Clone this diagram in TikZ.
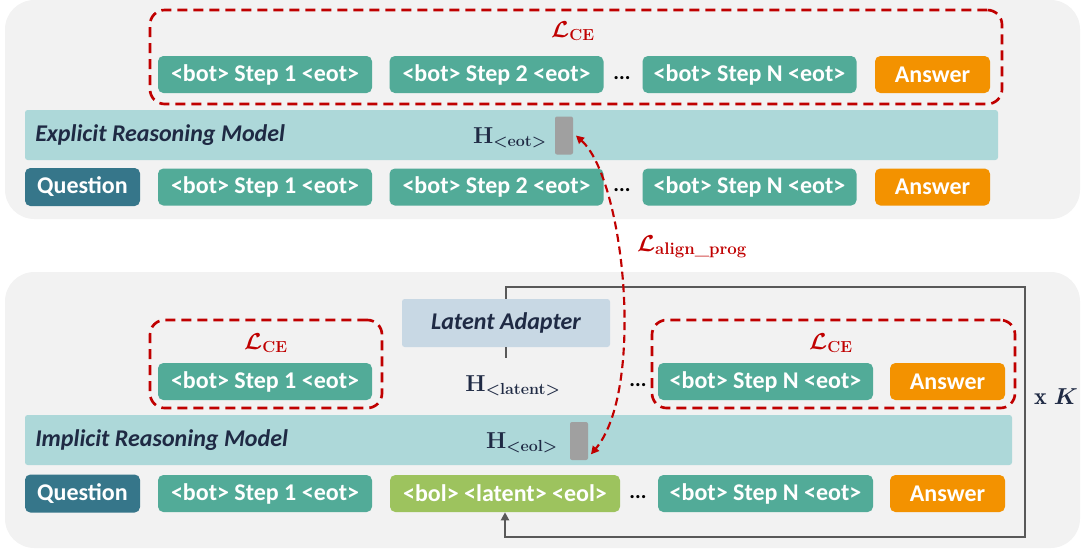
\documentclass[tikz,border=0pt]{standalone}
\usepackage{fontspec}
\usepackage{amsmath}
\setsansfont{Carlito}
\usetikzlibrary{arrows.meta}
\definecolor{panelgray}{HTML}{F2F2F2}
\definecolor{stepteal}{HTML}{52AB98}
\definecolor{anscol}{HTML}{F39200}
\definecolor{barcol}{HTML}{ADD8D9}
\definecolor{qcol}{HTML}{36768A}
\definecolor{grncol}{HTML}{9DC35E}
\definecolor{adaptcol}{HTML}{C8D8E4}
\definecolor{lossred}{HTML}{C00000}
\definecolor{navy}{HTML}{1F2A44}
\definecolor{hidgray}{HTML}{A0A0A0}
\definecolor{loopgray}{HTML}{595959}
\begin{document}
\begin{tikzpicture}[x=0.75pt,y=-0.75pt,
  sz/.style 2 args={minimum width=#1*0.75pt, minimum height=#2*0.75pt},
  panel/.style={fill=panelgray, draw=none, rounded corners=22pt, inner sep=0},
  tok/.style={rounded corners=4pt, inner sep=0, text=white, font=\sffamily\bfseries\fontsize{18}{21}\selectfont},
  stepbox/.style={tok, fill=stepteal, sz={214}{37}},
  ansbox/.style={tok, fill=anscol, sz={115}{37}},
  qbox/.style={tok, fill=qcol, sz={115}{38}},
  bar/.style={fill=barcol, inner sep=0, rounded corners=2pt},
  barlabel/.style={anchor=west, inner sep=0, text=navy, font=\sffamily\bfseries\itshape\fontsize{18}{21}\selectfont},
  lossbox/.style={draw=lossred, line width=2pt, dash pattern=on 7.5pt off 4.5pt, rounded corners=11pt, inner sep=0},
  losslabel/.style={text=lossred, inner sep=0, font=\fontsize{18}{21}\selectfont\boldmath},
  hlabel/.style={text=navy, inner sep=0, font=\fontsize{17.5}{21}\selectfont\boldmath},
  hidden/.style={fill=hidgray, rounded corners=1.5pt, inner sep=0, sz={18}{38}},
  dotlabel/.style={inner sep=0, font=\sffamily\bfseries\fontsize{16}{18}\selectfont},
  loopline/.style={draw=loopgray, line width=1.6pt},
  alignarrow/.style={draw=lossred, line width=1.6pt, dash pattern=on 6pt off 3.5pt, {Triangle[length=6pt,width=6pt]}-{Triangle[length=6pt,width=6pt]}}
]
\useasboundingbox (0,0) rectangle (1084,551);

% panels
\node[panel, sz={1075}{219}] (p1) at (542.5,109.5) {};
\node[panel, sz={1075}{276}] (p2) at (542.5,410) {};

% ---------- top panel ----------
\node[lossbox, sz={852}{94}] (d1) at (576,57) {};
\node[losslabel] (l1) at (573,31) {$\mathcal{L}_{\mathbf{CE}}$};

\node[stepbox] (t1) at (265,74.5) {<bot> Step 1 <eot>};
\node[stepbox] (t2) at (496.5,74.5) {<bot> Step 2 <eot>};
\node[dotlabel] (td) at (622,78) {...};
\node[stepbox] (tN) at (749.5,74.5) {<bot> Step N <eot>};
\node[ansbox] (ta) at (932.5,74.5) {Answer};

\node[bar, sz={973}{50}] (eb) at (511.5,135) {};
\node[barlabel] (ebl) at (35,135) {Explicit Reasoning Model};
\node[hlabel] (heot) at (510,138) {$\mathbf{H}_{\mathbf{<eot>}}$};
\node[hidden] (g1) at (564,135.5) {};

\node[qbox] (q1) at (82.5,187) {Question};
\node[stepbox] (r1) at (265,187) {<bot> Step 1 <eot>};
\node[stepbox] (r2) at (496.5,187) {<bot> Step 2 <eot>};
\node[dotlabel] (rd) at (622,190) {...};
\node[stepbox] (rN) at (749.5,187) {<bot> Step N <eot>};
\node[ansbox] (ra) at (932.5,187) {Answer};

% ---------- bottom panel ----------
\coordinate (k1) at (1025,287);
\coordinate (k2) at (1025,537);
\node[fill=adaptcol, inner sep=0, rounded corners=2pt, sz={208}{48}, text=navy, font=\sffamily\bfseries\itshape\fontsize{18}{21}\selectfont] (la) at (506,323) {Latent Adapter};

\node[lossbox, sz={232}{88}] (d2) at (266,364) {};
\node[losslabel] (l2) at (266,343) {$\mathcal{L}_{\mathbf{CE}}$};
\node[stepbox] (b1) at (265,381.5) {<bot> Step 1 <eot>};

\node[hlabel] (hlat) at (513,386) {$\mathbf{H}_{\mathbf{<latent>}}$};
\coordinate (lend) at (506,358);
\node[dotlabel] (bd) at (638,385) {...};

\node[lossbox, sz={363}{88}] (d3) at (833.5,364) {};
\node[losslabel] (l3) at (831,343) {$\mathcal{L}_{\mathbf{CE}}$};
\node[stepbox, sz={215}{37}] (bN) at (765.5,381.5) {<bot> Step N <eot>};
\node[ansbox] (ba) at (947.5,381.5) {Answer};

\node[text=navy, inner sep=0, font=\fontsize{18}{21}\selectfont] (xk) at (1056,397) {$\mathbf{x}\ \boldsymbol{K}$};

\node[bar, sz={987}{50}] (ib) at (518.5,440) {};
\node[barlabel] (ibl) at (35,440) {Implicit Reasoning Model};
\node[hlabel] (heol) at (522,443) {$\mathbf{H}_{\mathbf{<eol>}}$};
\node[hidden] (g2) at (579,441) {};

\node[qbox] (q2) at (82.5,493.5) {Question};
\node[stepbox] (c1) at (265,493.5) {<bot> Step 1 <eot>};
\node[tok, fill=grncol, sz={230}{37}] (lat) at (505,493.5) {<bol> <latent> <eol>};
\node[dotlabel] (cd) at (638,497) {...};
\node[stepbox, sz={215}{37}] (cN) at (765.5,493.5) {<bot> Step N <eot>};
\node[ansbox] (ca) at (947.5,493.5) {Answer};

% loop
\draw[loopline] (la.south) -- (lend);
\draw[loopline, -{Triangle[length=6pt,width=6pt]}] (la.north) |- (k1) -- (k2) -| (lat.south);

% alignment arrow
\draw[alignarrow] ([xshift=2pt]g1.east) .. controls (625,180) and (645,390) .. ([xshift=2pt,yshift=-10pt]g2.east);
\node[losslabel] (la2) at (692,247) {$\mathcal{L}_{\textbf{align\_prog}}$};
\end{tikzpicture}
\end{document}
